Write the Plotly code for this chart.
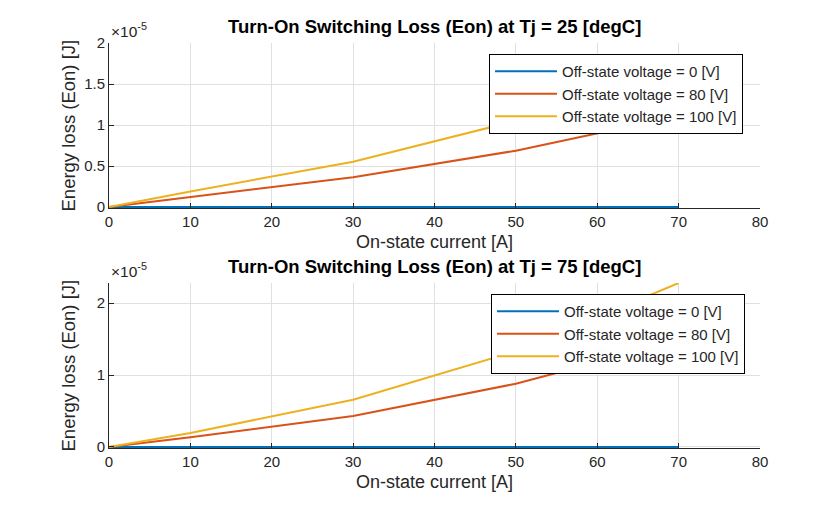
import plotly.graph_objects as go
from plotly.subplots import make_subplots

##########
## DATA ##
##########
current_A = [0, 10, 30, 50, 70]
voltages  = ["0", "80", "100"]

# Eon [J] at Tj = 25 degC
eon_25 = {
    "0":   [0, 0, 0, 0, 0],
    "80":  [0, 0.121e-5, 0.364e-5, 0.687e-5, 1.11e-5],
    "100": [0, 0.190e-5, 0.553e-5, 1.05e-5, 1.62e-5],
}
# Eon [J] at Tj = 75 degC
eon_75 = {
    "0":   [0, 0, 0, 0, 0],
    "80":  [0, 0.134e-5, 0.430e-5, 0.880e-5, 1.48e-5],
    "100": [0, 0.194e-5, 0.657e-5, 1.33e-5, 2.28e-5],
}
temps = [25, 75]
y_ticks_top = [0, 0.5e-5, 1e-5, 1.5e-5, 2e-5]
y_text_top  = ["0", "0.5", "1", "1.5", "2"]
y_ticks_bot = [0, 1e-5, 2e-5]
y_text_bot  = ["0", "1", "2"]
x_ticks     = [0, 10, 20, 30, 40, 50, 60, 70, 80]

colors = {"0": "#0072BD", "80": "#D95319", "100": "#EDB120"}
FONT = "Liberation Sans, Arial, sans-serif"
TXT  = "#262626"
W, H = 824, 489   # page adds 8px body margin
OFF  = 8

def px(x): return (x - OFF) / W           # screen pixel -> paper x
def py(y): return 1 - (y - OFF) / H       # screen pixel -> paper y

###########
## FIGURE##
###########
fig = make_subplots(rows=2, cols=1)

for row, (data, leg) in enumerate([(eon_25, "legend"), (eon_75, "legend2")], start=1):
    for v in voltages:
        fig.add_trace(go.Scatter(x=current_A, y=data[v], mode="lines",
                                 line=dict(color=colors[v], width=2),
                                 name="Off-state voltage = %s [V]" % v,
                                 legend=leg), row=row, col=1)

x0, x1 = px(109), px(760)
top_dom = [py(208), py(43)]
bot_dom = [py(448), py(283)]

axis_common = dict(showline=True, linecolor=TXT, linewidth=1, mirror=False,
                   ticks="inside", ticklen=5, tickcolor=TXT, automargin=False,
                   showgrid=True, gridcolor="#e0e0e0", gridwidth=1, zeroline=False,
                   tickfont=dict(family=FONT, size=15, color=TXT))

fig.update_xaxes(axis_common, range=[0, 80], tickvals=x_ticks, domain=[x0, x1])
fig.update_yaxes(axis_common)
# tiny offset below 0 so the 0 V line is not clipped under the axis
fig.update_yaxes(range=[-0.012e-5, 2e-5], tickvals=y_ticks_top, ticktext=y_text_top, domain=top_dom, row=1, col=1)
fig.update_yaxes(range=[-0.014e-5, 2.28e-5], tickvals=y_ticks_bot, ticktext=y_text_bot, domain=bot_dom, row=2, col=1)

# titles, axis titles and exponent labels
for dom, t, xt_y in zip([top_dom, bot_dom], temps, [242, 482]):
    fig.add_annotation(text="<b>Turn-On Switching Loss (Eon) at Tj = %d [degC]</b>" % t,
                       x=(x0 + x1) / 2, y=dom[1] + 4 / H, xref="paper", yref="paper",
                       xanchor="center", yanchor="bottom", showarrow=False,
                       font=dict(family=FONT, size=18.5, color="black"))
    fig.add_annotation(text="×10<sup>-5</sup>", x=x0, y=dom[1] + 1 / H, xref="paper", yref="paper",
                       xanchor="left", yanchor="bottom", showarrow=False,
                       font=dict(family=FONT, size=15.5, color=TXT))
    fig.add_annotation(text="On-state current [A]", x=(x0 + x1) / 2, y=py(xt_y), xref="paper", yref="paper",
                       xanchor="center", yanchor="middle", showarrow=False,
                       font=dict(family=FONT, size=18, color=TXT))
    fig.add_annotation(text="Energy loss (Eon) [J]", x=px(68), y=(dom[0] + dom[1]) / 2, xref="paper", yref="paper",
                       xanchor="center", yanchor="middle", textangle=-90, showarrow=False,
                       font=dict(family=FONT, size=18.5, color=TXT))

leg_style = dict(bgcolor="white", bordercolor="black", borderwidth=1, xanchor="right", yanchor="top",
                 font=dict(family=FONT, size=15, color=TXT), tracegroupgap=0, itemwidth=62)
fig.update_layout(
    width=W, height=H, plot_bgcolor="white", paper_bgcolor="white",
    margin=dict(l=0, r=0, t=0, b=0), showlegend=True,
    legend=dict(leg_style, x=px(743), y=py(54)),
    legend2=dict(leg_style, x=px(745), y=py(294)),
)

fig.write_html("out.html")
